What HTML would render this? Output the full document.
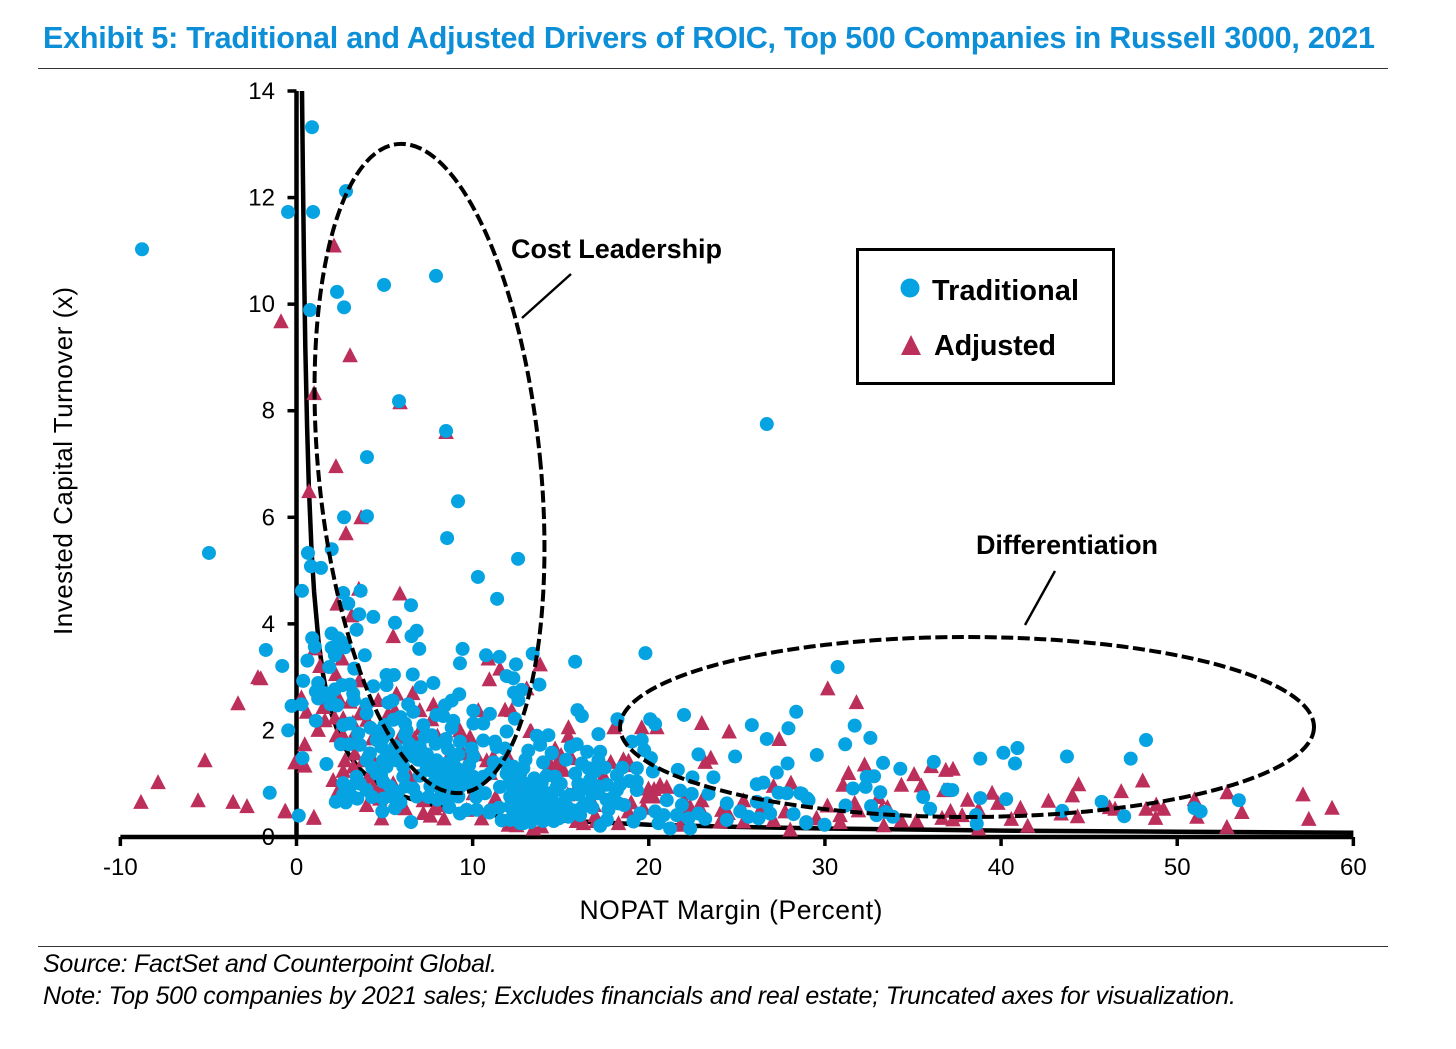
<!DOCTYPE html>
<html lang="en">
<head>
<meta charset="utf-8">
<title>Exhibit 5: Traditional and Adjusted Drivers of ROIC</title>
<style>
html,body{margin:0;padding:0;background:#fff;}
svg{display:block;font-family:"Liberation Sans",Arial,sans-serif;}
</style>
</head>
<body>
<svg id="chart" width="1456" height="1049" viewBox="0 0 1456 1049" xmlns="http://www.w3.org/2000/svg">
<rect x="0" y="0" width="1456" height="1049" fill="#fff"/>
<text x="43" y="48" font-size="30.5" font-weight="700" fill="#0d8fd8" textLength="1332" lengthAdjust="spacing">Exhibit 5: Traditional and Adjusted Drivers of ROIC, Top 500 Companies in Russell 3000, 2021</text>
<line x1="38" y1="68.5" x2="1388" y2="68.5" stroke="#333" stroke-width="1"/>
<g id="curve-layer"></g>
<g id="axis-layer"></g>
<g id="adjusted-layer"></g>
<g id="traditional-layer"></g>
<ellipse cx="429.5" cy="468.5" rx="111" ry="326" transform="rotate(-5.6 429.5 468.5)" fill="none" stroke="#000" stroke-width="4" stroke-dasharray="12 4.5"/>
<ellipse cx="967" cy="727" rx="347" ry="90" fill="none" stroke="#000" stroke-width="4" stroke-dasharray="12 4.5"/>
<text x="511" y="258" font-size="27" font-weight="700" fill="#000" textLength="211" lengthAdjust="spacing">Cost Leadership</text>
<line x1="571" y1="274" x2="522" y2="318" stroke="#000" stroke-width="2.4"/>
<text x="976" y="554" font-size="27" font-weight="700" fill="#000" textLength="182" lengthAdjust="spacing">Differentiation</text>
<line x1="1055" y1="571" x2="1025" y2="625" stroke="#000" stroke-width="2.4"/>
<g>
<rect x="857.5" y="249.5" width="256" height="134" fill="#fff" stroke="#000" stroke-width="3"/>
<circle cx="910" cy="288" r="9.5" fill="#05a3e2"/>
<text x="932" y="300" font-size="28.8" font-weight="700" fill="#000" textLength="147" lengthAdjust="spacing">Traditional</text>
<polygon points="911,335 921,355 901,355" fill="#bd2f5b"/>
<text x="934" y="355" font-size="28.8" font-weight="700" fill="#000" textLength="122" lengthAdjust="spacing">Adjusted</text>
</g>
<text transform="translate(72 461) rotate(-90)" text-anchor="middle" font-size="26" fill="#000" textLength="348" lengthAdjust="spacing">Invested Capital Turnover (x)</text>
<text x="731" y="919" text-anchor="middle" font-size="26.5" fill="#000" textLength="303" lengthAdjust="spacing">NOPAT Margin (Percent)</text>
<line x1="38" y1="946.5" x2="1388" y2="946.5" stroke="#333" stroke-width="1"/>
<text x="43" y="972" font-size="25" font-style="italic" fill="#000" textLength="454" lengthAdjust="spacing">Source: FactSet and Counterpoint Global.</text>
<text x="43" y="1004" font-size="25" font-style="italic" fill="#000" textLength="1193" lengthAdjust="spacing">Note: Top 500 companies by 2021 sales; Excludes financials and real estate; Truncated axes for visualization.</text>
</svg>
<script>
const xTickLabels = [-10, 0, 10, 20, 30, 40, 50, 60];
const yTickLabels = [0, 2, 4, 6, 8, 10, 12, 14];
const curveMargin = [0.31, 0.36, 0.42, 0.5, 0.6, 0.7, 0.85, 1, 1.25, 1.5, 1.75, 2, 2.5, 3, 3.5, 4, 5, 6, 7, 8, 10, 12, 15, 20, 25, 30, 40, 50, 60];
const curveTurnover = [14, 12.6, 10.9, 9.2, 7.7, 6.6, 5.4, 4.6, 3.68, 3.07, 2.63, 2.3, 1.84, 1.53, 1.31, 1.15, 0.92, 0.77, 0.66, 0.58, 0.46, 0.38, 0.31, 0.23, 0.19, 0.16, 0.12, 0.1, 0.08];
const traditionalPoints = [
[-8.77,11.03],[0.88,13.32],[2.81,12.12],[-0.48,11.73],[0.94,11.73],[0.77,9.89],[2.3,10.23],[2.7,9.94],[4.97,10.36],[7.92,10.53],[5.82,8.18],[8.49,7.62],[4,7.13],[9.17,6.3],[2.7,6],[4,6.02],[8.55,5.61],[12.58,5.22],[10.3,4.88],[11.39,4.47],[2,5.4],[0.65,5.33],[-4.97,5.33],[0.82,5.08],[1.39,5.05],[0.31,4.62],[26.7,7.75],
[2.65,4.58],[3.64,4.62],[2.94,4.38],[3.56,4.18],[4.36,4.13],[6.5,4.35],[5.59,4.02],[3.41,3.89],[1.99,3.82],[0.89,3.73],[2.37,3.73],[6.82,3.87],[6.53,3.77],[2.56,3.66],[1.04,3.57],[2.75,3.56],[6.97,3.53],[9.43,3.53],[-1.74,3.51],[-0.81,3.21],[0.62,3.31],[3.88,3.41],[2.18,3.41],[9.28,3.26],[10.76,3.41],[11.52,3.38],[12.46,3.24],[13.41,3.44],[1.86,3.19],[3.28,3.16],[6.6,3.05],[5.11,3.04],[5.53,3.04],[11.93,3.02],[12.31,2.98],[0.38,2.93],[7.77,2.89],[1.23,2.89],[3.03,2.86],[4.36,2.83],[5.11,2.85],[13.79,2.86],[7.05,2.81],[2.18,2.77],[1.1,2.73],[12.78,2.76],[12.35,2.71],[9.24,2.68],[3.22,2.69],[1.23,2.6],[12.6,2.57],[3.26,2.57],[5.45,2.56],[5.21,2.52],[3.98,2.49],[-0.28,2.46],[0.28,2.49],[1.93,2.49],[2.31,2.47],[6.34,2.49],[8.81,2.56],[8.43,2.47],[10.04,2.37],[6.63,2.35],[10.98,2.31],[3.98,2.32],[7.95,2.29],[8.33,2.27],[1.1,2.18],[12.4,2.22],[8.9,2.18],[10.04,2.13],[10.6,2.13],[6.16,2.13],[3.03,2.13],[2.65,2.1],[3.5,1.94],[-0.47,2],[6.25,2],[6.16,1.91],[8.81,2.05],[11.93,1.98],[4.55,1.98],[7.67,1.91],[7.29,1.88],[4.55,1.82],[13.64,1.9],[14.3,1.91],[8.48,1.84],[9.28,1.79],[10.6,1.81],[11.27,1.79],[13.83,1.73],[2.52,1.74],[2.99,1.74],[3.6,1.73],[4.83,1.69],[7,1.69],[6.63,1.63],[11.36,1.69],[11.84,1.66],[13.16,1.62],[14.49,1.58],[4.17,1.57],[9.94,1.66],[0.34,1.48],[3.98,1.44],[4.92,1.44],[5.68,1.44],[6.63,1.51],[7.95,1.44],[8.52,1.38],[10.04,1.51],[1.7,1.37],[5.11,1.32],[6.06,1.32],[7.39,1.32],[8.14,1.32],[9.09,1.29],[12.31,1.32],[12.88,1.29],[9.28,1.13],[4.55,1.19],[6.06,1.13],[10.98,1.19],[10.04,1.13],[10.6,1.13],[11.93,1.19],[14.68,1.13],[3.41,1.13],[2.65,1.01],[4.92,1.04],[7.77,1.01],[8.71,1.04],[9.66,1.01],[12.69,1.07],[13.92,1.01],[11.55,0.94],[3.03,0.94],[3.98,0.88],[5.77,0.85],[6.63,0.91],[8.24,0.85],[14.77,0.94],[-1.52,0.83],[2.65,0.8],[2.23,0.66],[3.45,0.72],[4.92,0.72],[5.4,0.76],[6.82,0.76],[9.19,0.76],[10.7,0.82],[12.31,0.82],[13.07,0.82],[14.39,0.82],[4.87,0.48],[5.59,0.54],[8.67,0.56],[9.28,0.44],[9.66,0.51],[10.23,0.51],[10.95,0.46],[0.13,0.4],[6.5,0.28],[11.65,0.31],[12.31,0.35],[12.88,0.26],[13.45,0.38],[14.2,0.38],[12.12,0.57],[12.69,0.57],[13.45,0.63],[14.2,0.6],[14.77,0.57],
[15.82,3.29],[19.81,3.45],[15.95,2.38],[16.2,2.27],[18.22,2.21],[22,2.29],[20.08,2.21],[20.36,2.12],[28.37,2.35],[25.85,2.1],[27.93,2.04],[26.7,1.84],[17.14,1.93],[15.91,1.74],[15.57,1.69],[14.49,1.57],[17.24,1.6],[17.14,1.44],[19.04,1.79],[19.6,1.82],[19.74,1.63],[20.12,1.48],[22.82,1.55],[24.9,1.51],[29.54,1.54],[27.88,1.38],[27.27,1.21],[19.32,1.29],[20.23,1.23],[21.65,1.26],[23.67,1.12],[22.48,1.12],[26.51,1.02],[26.13,0.99],[16.2,1.38],[15.82,1.19],[16.58,1.29],[16.96,1.23],[18.19,1.16],[14.68,1.13],[13.83,1.01],[16.67,1.07],[17.62,0.98],[18.37,0.98],[19.32,1.04],[19.32,0.88],[18.19,0.88],[16.58,0.91],[17.14,0.82],[15.53,0.79],[14.78,0.88],[14.4,0.73],[21.78,0.87],[22.44,0.81],[23.39,0.81],[21.02,0.69],[24.43,0.63],[21.88,0.6],[27.37,0.83],[27.84,0.82],[28.6,0.82],[29.07,0.69],[26.14,0.66],[26.7,0.63],[25.19,0.48],[26.89,0.44],[28.22,0.43],[28.94,0.26],[26.23,0.35],[25.66,0.38],[24.43,0.32],[23.2,0.34],[22.82,0.44],[22.25,0.35],[22.35,0.16],[21.21,0.16],[21.59,0.41],[20.84,0.41],[20.36,0.48],[19.51,0.44],[19.13,0.29],[20.55,0.26],[18.28,0.63],[17.71,0.51],[17.62,0.32],[17.24,0.21],[16.1,0.41],[15.44,0.38],[16.39,0.63],[14.78,0.44],[14.21,0.38],[13.45,0.35],[12.7,0.26],[12.13,0.32],[13.26,0.69],[12.13,0.76],[13.45,0.88],[12.7,1.19],[12.13,1.07],[12.89,1.01],
[30.72,3.19],[31.69,2.09],[32.58,1.86],[31.15,1.74],[33.3,1.39],[34.28,1.28],[36.18,1.41],[38.82,1.47],[40.13,1.58],[40.93,1.67],[40.79,1.38],[43.74,1.51],[47.36,1.47],[48.23,1.82],[32.37,1.13],[32.79,1.14],[31.59,0.91],[32.31,0.94],[33.14,0.84],[35.58,0.75],[36.96,0.89],[37.23,0.88],[38.82,0.73],[40.29,0.71],[32.62,0.58],[31.17,0.59],[35.97,0.53],[33.45,0.47],[32.93,0.41],[33.86,0.38],[29,0.72],[28.69,0.81],[28.94,0.28],[29.98,0.23],[38.58,0.41],[38.62,0.25],[43.47,0.49],[45.71,0.66],[46.99,0.39],[50.98,0.54],[51.33,0.48],[53.5,0.69],
[8.2,1.15],[8.6,1.2],[9,1.05],[9.5,1.2],[8.9,1.45],[7.4,1.55],[7,1.15],[7.6,0.95],[6.2,1.6],[5.6,1.7],[5.2,1.95],[5,2.1],[7.2,2.1],[13,0.45],[13.8,0.55],[12.4,0.5],[13.2,0.9],[14,0.8],[15,0.6],[15.4,0.55],[16,0.8],[17.6,0.7],[18.6,0.6],
[12.3,0.9],[12.6,0.75],[12.9,0.65],[13.1,0.5],[13.6,0.45],[13.9,0.7],[14.3,0.5],[14.6,0.65],[14.9,0.35],[15.3,0.75],[15.7,0.5],[16.2,0.55],[16.8,0.55],[17.1,0.95],[18,0.75],[12.3,0.4],[12.9,0.35],[13.3,0.28],[14,0.3],[14.6,0.3],[15.2,0.45],[16,1],[16.8,0.8],[15,1],[14.2,1.15],[13.5,1.1],[13,1.45],[14,1.4],[15.3,1.45],[16.5,1.6],[17.5,1.3],[18.5,1.3],[18.9,1.05],
[5.3,1.55],[5.9,1.55],[6.4,1.75],[6.9,1.45],[7.3,1.4],[7.6,1.25],[8,1.1],[8.4,1],[8.8,0.95],[9.3,0.95],[9.8,1.35],[10.2,1],[9.2,1.55],[8.6,1.65],[7.9,1.75],[7.5,1.9],[5.9,2.25],[5.5,2.2],[4.9,1.85],[4.2,2.05],[4.3,1.3],[4.8,1.15],[5.3,0.95],[6.2,0.95],[3.6,1],[3.2,0.75],[2.8,0.65],[4.3,0.75],[5.9,0.65],[7.5,0.75],[8,0.7],[8.6,0.7],[10.2,0.75],[11,0.5],[11.5,0.55],[11.8,1.4],[11.2,1.4],[1.9,2.6],[2.6,2.85],[1.6,2.7],[2,3.55],[2.3,3.5]
];
const adjustedPoints = [
[2.13,11.1],[-0.88,9.68],[3.04,9.04],[1,8.33],[5.88,8.16],[8.49,7.6],[2.24,6.96],[0.71,6.49],[3.67,6],[2.81,5.7],[-2.19,3],[-3.32,2.51],[-5.2,1.44],[-7.86,1.03],[-8.83,0.66],[-5.59,0.69],[-3.6,0.66],[-2.81,0.58],[-0.65,0.49],[0.99,0.38],
[3.54,4.66],[5.87,4.57],[2.31,4.38],[3.13,4.16],[5.49,3.77],[1.04,3.54],[2.59,3.35],[1.33,3.21],[2.23,3.06],[13.83,3.24],[11.55,3.16],[10.89,3.35],[10.95,2.96],[3.56,2.94],[-2.03,2.98],[0.28,2.62],[5.68,2.69],[7.77,2.49],[1.52,2.44],[0.57,2.35],[3.03,2.54],[4.64,2.57],[2.37,2.63],[3.6,2.32],[5.21,2.32],[5.59,2.38],[7,2.38],[11.84,2.39],[12.22,2.38],[10.32,2.38],[13.07,2.79],[1.61,2.19],[2.18,2.24],[7.67,2.21],[7.05,2.04],[1.23,2.01],[2.65,2.23],[2.27,1.91],[2.65,1.91],[13.26,1.99],[0.47,1.74],[-0.09,1.4],[0.47,1.34],[9.47,1.88],[9.85,1.88],[9.47,1.57],[3.31,1.57],[2.75,1.44],[2.65,1.24],[3.22,1.32],[4.07,1.13],[2.08,1.07],[10.8,1.44],[11.17,1.51],[12.03,1.07],[12.12,1.44],[14.68,1.66],[14.39,1.38],[14.77,1.38],[12.5,1.19],[5.49,1.01],[4.55,1.32],[6.44,1.13],[2.37,0.88],[4.73,0.72],[3.98,0.6],[6.16,0.54],[4.83,0.35],[7.86,0.54],[7.95,0.6],[8.37,0.35],[-0.61,0.48],[0.98,0.36],[7.2,0.69],[10.04,0.82],[13.45,0.16],[12.03,0.23],[10.51,0.35],[9.66,0.51],[5.4,1.57],[4.92,2.13],[5.87,1.88],[8.52,1.44],[4.36,0.94],[3.79,1.44],[9.28,2],
[15.44,2.06],[15.44,1.9],[13.32,1.99],[18.03,2.06],[19.6,2.06],[20.46,2.06],[23.01,2.14],[24.56,1.98],[27.4,1.84],[14.68,1.57],[14.4,1.33],[15.02,1.54],[15.63,1.48],[14.87,1.32],[15.16,1.26],[17.84,1.41],[18.56,1.46],[18.85,1.43],[18.66,1.35],[15.91,0.94],[17.43,1.16],[23.52,1.49],[23.2,1.41],[20.64,0.98],[21.02,0.94],[19.98,0.91],[19.89,0.76],[20.27,0.76],[23.01,0.69],[24.15,0.51],[25.38,0.69],[27.08,0.96],[28.07,1.02],[27.74,0.48],[29.54,0.35],[18.85,0.48],[18.28,0.26],[16.96,0.41],[13.45,0.16],[12.13,0.26],[22.35,0.57],[21.78,0.23],[24.05,0.29],[25.38,0.29],[26.32,0.51],[27.08,0.32],[28.03,0.14],[16.29,0.26],[12.32,1.01],[13.26,0.57],
[30.16,2.79],[31.79,2.53],[32.25,1.36],[31.34,1.2],[31.03,0.98],[31.69,0.64],[30.14,0.59],[31.9,0.5],[30.86,0.41],[30.86,0.28],[29.52,0.36],[36.03,1.33],[36.86,1.26],[37.27,1.28],[35.06,1.18],[34.34,0.98],[35.47,0.97],[36.76,0.88],[38.1,0.7],[39.49,0.83],[39.82,0.64],[38.72,0.52],[41.1,0.55],[40.58,0.34],[41.51,0.21],[38.72,0.16],[37.13,0.49],[36.65,0.36],[37.27,0.33],[37.79,0.41],[35.2,0.31],[34.34,0.31],[33.34,0.22],[33.04,0.75],[33.55,0.56],[33.24,0.53],[42.69,0.68],[44.05,0.78],[44.4,0.99],[44.34,0.39],[43.41,0.44],[46.16,0.56],[46.47,0.53],[46.82,0.86],[48.04,1.06],[48.23,0.53],[48.81,0.61],[49.22,0.53],[48.77,0.36],[50.98,0.71],[51.12,0.38],[52.84,0.84],[52.82,0.19],[53.67,0.47],[57.14,0.8],[57.47,0.34],[58.79,0.55],
[3.2,2.15],[4,2.2],[4.3,1.85],[3.3,1.95],[6.7,1.85],[8,1.9],[6.6,2.7],[4.2,1.55],[4.8,0.95],[7.2,0.45],[7.6,0.4],[12.5,0.22],[13.9,0.2],[15.9,0.3],[17,0.3],[16.9,0.6],[15.4,0.8],[16.6,1.05],[19,0.65],[19.7,0.55],[22,0.7],[23,0.5],[24.5,0.45],[20.3,0.9],[11.3,0.75],[11,1.2],[10.2,1.55]
];

const SVG_NS = 'http://www.w3.org/2000/svg';
function xScale(v) { return 296.5 + (v * 1233) / 70; }
function yScale(v) { return 837 - (v * 746) / 14; }

const axisLayer = document.getElementById('axis-layer');
const curveLayer = document.getElementById('curve-layer');
const adjustedLayer = document.getElementById('adjusted-layer');
const traditionalLayer = document.getElementById('traditional-layer');

function addLine(parent, x1, y1, x2, y2, width) {
  const ln = document.createElementNS(SVG_NS, 'line');
  ln.setAttribute('x1', x1);
  ln.setAttribute('y1', y1);
  ln.setAttribute('x2', x2);
  ln.setAttribute('y2', y2);
  ln.setAttribute('stroke', '#000');
  ln.setAttribute('stroke-width', width);
  parent.appendChild(ln);
  return ln;
}

const xAxisLine = addLine(axisLayer, xScale(-10), yScale(0), xScale(60), yScale(0), 4.5);


const yAxisLine = addLine(axisLayer, xScale(0), yScale(14), xScale(0), yScale(0), 4.5);



xTickLabels.forEach(function (v) {
  const tick = addLine(axisLayer, xScale(v), yScale(0), xScale(v), yScale(0) + 9, 3.5);
  
  
  const label = document.createElementNS(SVG_NS, 'text');
  
  
  label.setAttribute('x', xScale(v));
  label.setAttribute('y', 875);
  label.setAttribute('text-anchor', 'middle');
  label.setAttribute('font-size', '24');
  label.textContent = String(v);
  axisLayer.appendChild(label);
});

yTickLabels.forEach(function (v) {
  const tick = addLine(axisLayer, xScale(0) - 9, yScale(v), xScale(0), yScale(v), 3.5);
  
  
  const label = document.createElementNS(SVG_NS, 'text');
  
  
  label.setAttribute('x', 275);
  label.setAttribute('y', yScale(v) + 8);
  label.setAttribute('text-anchor', 'end');
  label.setAttribute('font-size', '24');
  label.textContent = String(v);
  axisLayer.appendChild(label);
});

const curve = document.createElementNS(SVG_NS, 'polyline');


curve.setAttribute('fill', 'none');
curve.setAttribute('stroke', '#000');
curve.setAttribute('stroke-width', '4.5');
curve.setAttribute('stroke-linejoin', 'round');
curve.setAttribute('points', curveMargin.map(function (m, i) {
  return xScale(m).toFixed(1) + ',' + yScale(curveTurnover[i]).toFixed(1);
}).join(' '));
curveLayer.appendChild(curve);

adjustedPoints.forEach(function (p) {
  const cx = xScale(p[0]);
  const cy = yScale(p[1]);
  const tri = document.createElementNS(SVG_NS, 'polygon');
  
  
  tri.setAttribute('fill', '#bd2f5b');
  tri.setAttribute('points', cx + ',' + (cy - 8) + ' ' + (cx + 7.8) + ',' + (cy + 7) + ' ' + (cx - 7.8) + ',' + (cy + 7));
  adjustedLayer.appendChild(tri);
});

traditionalPoints.forEach(function (p) {
  const dot = document.createElementNS(SVG_NS, 'circle');
  
  
  dot.setAttribute('fill', '#05a3e2');
  dot.setAttribute('cx', xScale(p[0]));
  dot.setAttribute('cy', yScale(p[1]));
  dot.setAttribute('r', 7);
  traditionalLayer.appendChild(dot);
});
</script>
</body>
</html>
